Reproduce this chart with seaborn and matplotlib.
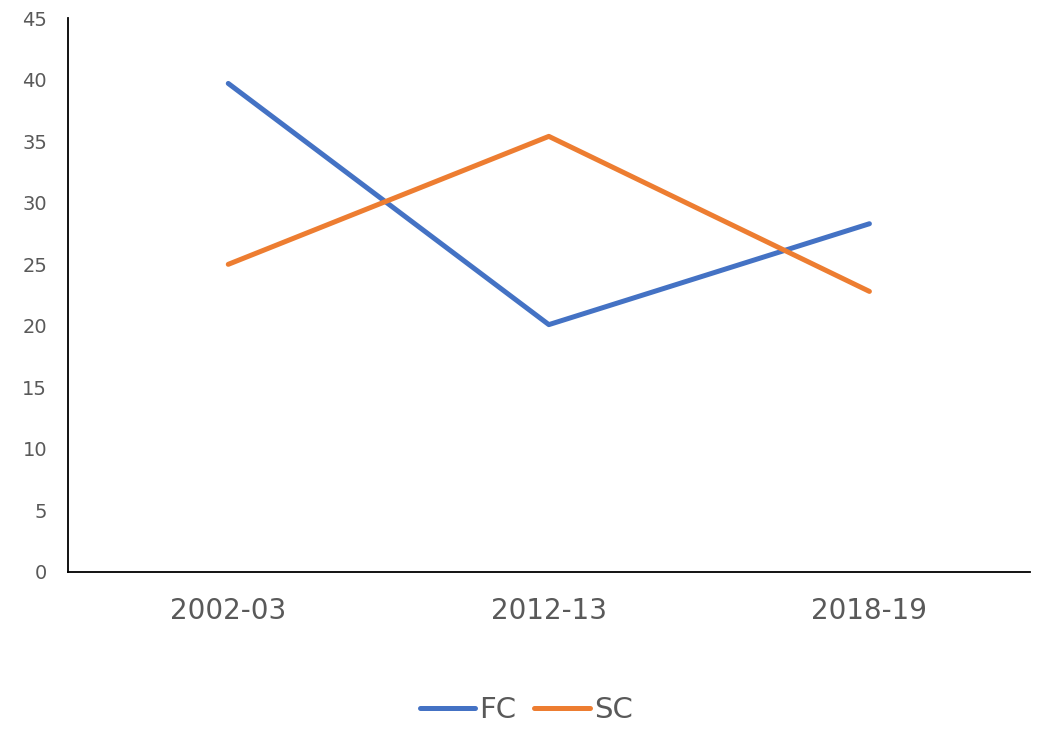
import pandas as pd
import matplotlib.pyplot as plt
import seaborn as sns

# --- Data ---
years = ["2002-03", "2012-13", "2018-19"]
fc_values = [39.7, 20.1, 28.3]
sc_values = [25.0, 35.4, 22.8]
y_ticks = [0, 5, 10, 15, 20, 25, 30, 35, 40, 45]

df = pd.DataFrame({
    "Year": years * 2,
    "Value": fc_values + sc_values,
    "Series": ["FC"] * len(years) + ["SC"] * len(years),
})

sns.set_style("white")
plt.rcParams['font.family'] = ['DejaVu Sans']
text_color = "#595959"

fig = plt.figure(figsize=(10.38, 7.29), dpi=100)
ax = fig.add_axes([0.0655, 0.2154, 0.9265, 0.7596])

palette = {"FC": "#4472C4", "SC": "#ED7D31"}
sns.lineplot(data=df, x="Year", y="Value", hue="Series", palette=palette,
             linewidth=3.6, sort=False, ax=ax, legend=False,
             solid_capstyle="round")

ax.set_xlim(-0.5, 2.5)
ax.set_ylim(0, 45)
ax.set_yticks(y_ticks)
ax.set_xlabel("")
ax.set_ylabel("")
ax.tick_params(axis="y", length=0, labelsize=14, colors=text_color, pad=15)
ax.tick_params(axis="x", length=0, labelsize=20, colors=text_color, pad=18)

sns.despine(ax=ax)
for side in ["left", "bottom"]:
    ax.spines[side].set_color("black")
    ax.spines[side].set_linewidth(1.3)

handles = [plt.Line2D([], [], color=palette[s], linewidth=3.6, solid_capstyle="round")
           for s in ["FC", "SC"]]
leg = fig.legend(handles, ["FC", "SC"], loc="center", bbox_to_anchor=(0.507, 0.026),
                 ncol=2, frameon=False, fontsize=21, handlelength=1.9,
                 handletextpad=0.15, columnspacing=0.6)
for t in leg.get_texts():
    t.set_color(text_color)

fig.savefig("out.png", dpi=100)
plt.close()
